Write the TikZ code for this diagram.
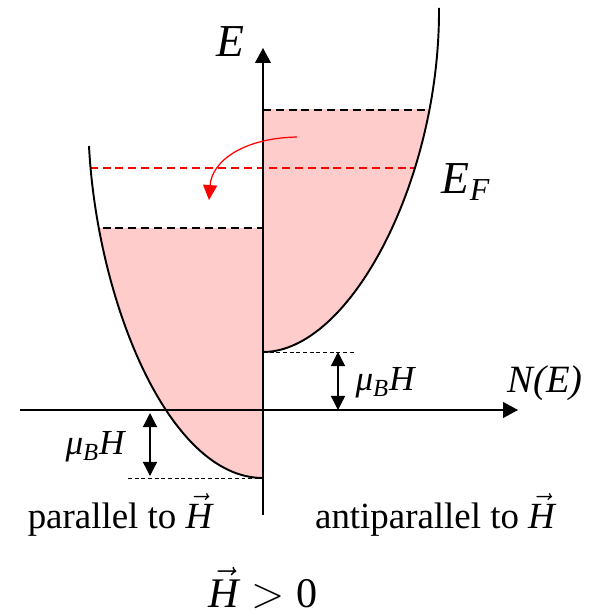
\documentclass[tikz,border=0pt]{standalone}
\usepackage{fontspec}
\setmainfont{Liberation Serif}
\usetikzlibrary{arrows.meta}
\definecolor{ink}{HTML}{000000}
\definecolor{occfill}{HTML}{FFCCCC}
\definecolor{fermi}{HTML}{FF0000}
\tikzset{
  % ---- axes and bands --------------------------------------------
  axis/.style       = {draw=ink, line width=.75pt,
                       -{Triangle[length=8.5pt,width=9pt]}},
  band/.style       = {draw=ink, line width=1.1pt},
  occ/.style        = {fill=occfill},
  % ---- levels ----------------------------------------------------
  level/.style      = {draw=ink, line width=1.1pt,
                       dash pattern=on 4.5pt off 2.8pt},
  flevel/.style     = {draw=fermi, line width=1.1pt,
                       dash pattern=on 4.5pt off 2.8pt},
  shiftline/.style  = {draw=ink, line width=.55pt,
                       dash pattern=on 2.2pt off 1.6pt},
  gap/.style        = {draw=ink, line width=.75pt,
                       {Triangle[length=8pt,width=8pt]}-{Triangle[length=8pt,width=8pt]}},
  flow/.style       = {draw=fermi, line width=.7pt,
                       -{Triangle[length=8.5pt,width=8pt]}},
  % ---- labels ----------------------------------------------------
  axlab/.style      = {font=\fontsize{26}{30}\selectfont\itshape, inner sep=0pt},
  nlab/.style       = {font=\fontsize{22}{26}\selectfont\itshape, inner sep=0pt},
  mulab/.style      = {font=\fontsize{20}{24}\selectfont\itshape, inner sep=0pt},
  spinlab/.style    = {font=\fontsize{21}{25}\selectfont, inner sep=0pt},
  fieldlab/.style   = {font=\fontsize{24}{28}\selectfont, inner sep=0pt},
}
\begin{document}
\begin{tikzpicture}[x=0.02cm, y=-0.02cm]
  \useasboundingbox (0,0) rectangle (591,611);
  % ---- key points ------------------------------------------------
  \coordinate (O)  at (263,410);
  \coordinate (Eb) at (263,515);
  \coordinate (Et) at (263,48);
  \coordinate (Nl) at (20,410);
  \coordinate (Nr) at (518,410);
  \coordinate (lt) at (89,146);
  \coordinate (lb) at (263,478);
  \coordinate (rb) at (263,352);
  \coordinate (rt) at (439,8);
  % ---- occupied states -------------------------------------------
  \begin{scope}
    \clip (0,228) rectangle (263,611);
    \fill[occ] (lt) .. controls (97,300) and (168,478) .. (lb) -- (263,146) -- cycle;
  \end{scope}
  \begin{scope}
    \clip (263,110) rectangle (591,611);
    \fill[occ] (rb) .. controls (350,352) and (440,180) .. (rt) -- (263,8) -- cycle;
  \end{scope}
  % ---- levels inside the bands -----------------------------------
  \begin{scope}
    \clip (lt) .. controls (97,300) and (168,478) .. (lb) -- (263,146) -- cycle
          (rb) .. controls (350,352) and (440,180) .. (rt) -- (263,8) -- cycle;
    \draw[level]  (0,228) -- (263,228);
    \draw[level]  (263,110) -- (591,110);
    \draw[flevel] (0,168) -- (591,168);
  \end{scope}
  % ---- axes ------------------------------------------------------
  \draw[axis] (Eb) -- (Et);
  \draw[axis] (Nl) -- (Nr);
  % ---- bands -----------------------------------------------------
  \draw[band] (lt) .. controls (97,300) and (168,478) .. (lb);
  \draw[band] (rb) .. controls (350,352) and (440,180) .. (rt);
  % ---- Zeeman shifts ---------------------------------------------
  \coordinate (rs) at (355,352);
  \coordinate (ls) at (128,478);
  \draw[shiftline] (rb) -- (rs);
  \draw[shiftline] (ls) -- (lb);
  \coordinate (ga) at (338,352);
  \coordinate (gb) at (338,410);
  \draw[gap] (ga) -- (gb);
  \coordinate (gc) at (150,413);
  \coordinate (gd) at (150,476);
  \draw[gap] (gc) -- (gd);
  % ---- electron transfer -----------------------------------------
  \coordinate (fa) at (297,137);
  \coordinate (fb) at (209,200);
  \draw[flow] (fa) .. controls (245,138) and (212,160) .. (fb);
  % ---- labels ----------------------------------------------------
  \node[axlab]    (lE)  at (230,42)  {E};
  \node[axlab]    (lEF) at (466,182) {E\textsubscript{F}};
  \node[nlab]     (lN)  at (545,383) {N(E)};
  \node[mulab]    (lmr) at (385,383) {μ\textsubscript{B}H};
  \node[mulab]    (lml) at (95,447)  {μ\textsubscript{B}H};
  \node[spinlab]  (lpa) at (120,515) {parallel to $\vec{\textit{H}}$};
  \node[spinlab]  (lap) at (435,515) {antiparallel to $\vec{\textit{H}}$};
  \node[fieldlab] (lH)  at (263,588) {$\vec{\textit{H}} > \textrm{0}$};
\end{tikzpicture}
\end{document}
